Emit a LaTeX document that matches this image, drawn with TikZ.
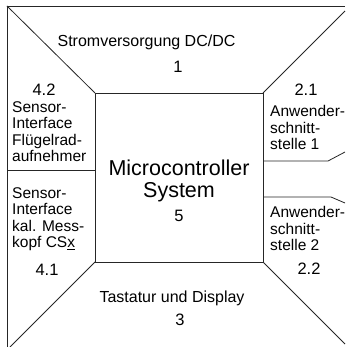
\documentclass[tikz,border=0pt]{standalone}
\usepackage{fontspec}
\setmainfont{Liberation Sans}
\usetikzlibrary{positioning,calc}
\tikzset{
  frameline/.style={line width=0.8pt, black!85},
  blocktxt/.style={font=\fontsize{16}{16}\selectfont, inner sep=0pt},
  numtxt/.style={font=\fontsize{16.5}{16.5}\selectfont, inner sep=0pt},
  sidetxt/.style={font=\fontsize{15.5}{16.6}\selectfont, align=left, inner sep=0pt, anchor=north west},
  mctxt/.style={font=\fontsize{21.5}{22}\selectfont, align=center, inner sep=0pt}
}

\begin{document}
\begin{tikzpicture}[x=1pt, y=-1pt]
  \useasboundingbox (0,0) rectangle (345,347);
  % outer frame and inner block
  \coordinate (otl) at (7,6);
  \coordinate (otr) at (345,6);
  \coordinate (obl) at (7,347);
  \coordinate (itl) at (95,93);
  \coordinate (itr) at (263,93);
  \coordinate (ibr) at (263,262);
  \coordinate (ibl) at (95,262);
  \coordinate (etr) at (345,11);
  \coordinate (ebl) at (10,347);
  \coordinate (ebr) at (345,344);
  \draw[frameline] (otr) -- (otl) -- (obl);
  \draw[frameline] (itl) rectangle (ibr);
  \draw[frameline] (otl) -- (itl);
  \draw[frameline] (itr) -- (etr);
  \draw[frameline] (ibl) -- (ebl);
  \draw[frameline] (ibr) -- (ebr);
  % dividers
  \coordinate (ldl) at (7,170);
  \coordinate (ldr) at (95,170);
  \draw[frameline] (ldl) -- (ldr);
  \coordinate (ra1) at (263,161);
  \coordinate (rb1) at (328,161);
  \coordinate (rc1) at (345,152);
  \coordinate (ra2) at (263,197);
  \coordinate (rb2) at (331,197);
  \coordinate (rc2) at (345,203);
  \draw[frameline] (ra1) -- (rb1) -- (rc1);
  \draw[frameline] (ra2) -- (rb2) -- (rc2);

  \node[blocktxt] (strom) at (146.5,42) {Stromversorgung DC/DC};
  \node[numtxt] (n1) at (178,67) {1};
  \node[blocktxt] (tast) at (172,298) {Tastatur und Display};
  \node[numtxt] (n3) at (180,320) {3};
  \node[mctxt] (mc) at (179,181) {Microcontroller\\System};
  \node[numtxt] (n5) at (179,216) {5};

  \node[numtxt] (n42) at (44,90) {4.2};
  \node[sidetxt] (sens2) at (12,101) {Sensor-\\Interface\\Flügelrad-\\aufnehmer};
  \node[sidetxt] (sens1) at (12,187) {Sensor-\\Interface\\kal. Mess-\\kopf CS\underline{x}};
  \node[numtxt] (n41) at (47,270) {4.1};

  \node[numtxt] (n21) at (306,90) {2.1};
  \node[sidetxt] (anw1) at (270,105) {Anwender-\\schnitt-\\stelle 1};
  \node[sidetxt] (anw2) at (270,206) {Anwender-\\schnitt-\\stelle 2};
  \node[numtxt] (n22) at (309,269) {2.2};
\end{tikzpicture}
\end{document}
